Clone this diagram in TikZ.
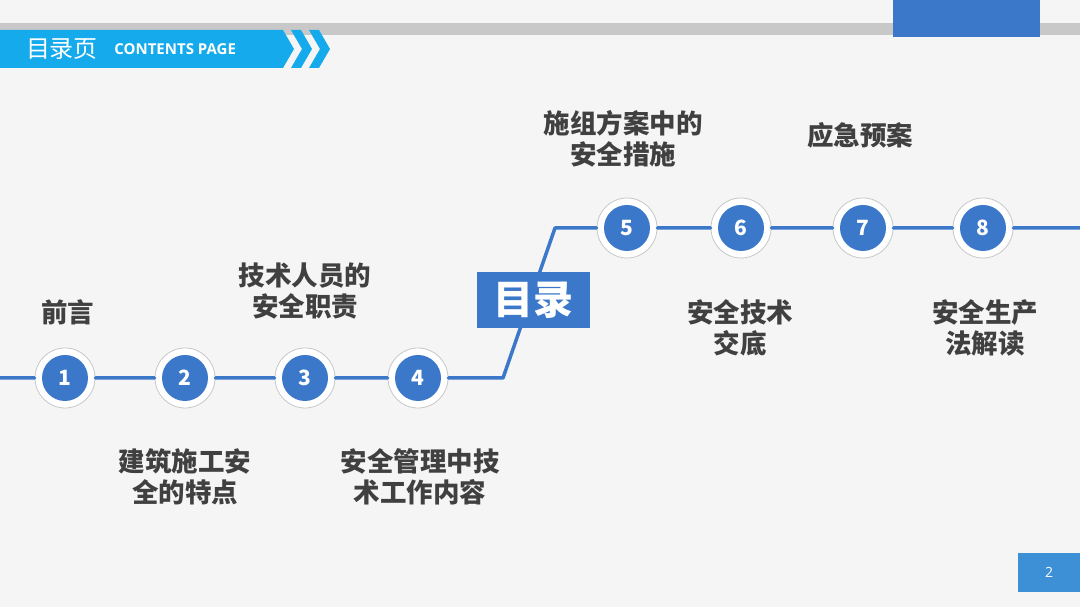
\documentclass[tikz,border=0pt]{standalone}
\usepackage{fontspec}
\usepackage{tikz}
\usetikzlibrary{positioning, calc}
\setmainfont{Open Sans}
\newfontfamily\cjk{Noto Sans CJK SC}
\definecolor{TLblue}{RGB}{59, 120, 201}
\definecolor{TLcyan}{RGB}{20, 170, 235}
\definecolor{TLgray}{RGB}{64, 64, 64}
\definecolor{TLpage}{RGB}{61, 143, 214}
\definecolor{TLback}{RGB}{245, 245, 245}
\definecolor{TLbar}{RGB}{200, 200, 200}
\tikzset{
    every path/.style={line cap=round, line join=round},
    stopnode/.style={circle, fill=white, draw=black!22, line width=0.8pt, minimum size=60pt, inner sep=0pt, text=white,
        font=\cjk\bfseries\fontsize{21}{21}\selectfont,
        path picture={\fill [TLblue] (path picture bounding box.center) circle (23pt);}},
    topic/.style={align=center, text=TLgray, font=\cjk\bfseries\fontsize{26.5}{31}\selectfont},
    track/.style={TLblue, line width=3.5pt}
}

\begin{document}
\begin{tikzpicture}[x=1pt, y=1pt]
    \fill [TLback] (0,0) rectangle (1080,607);
    \useasboundingbox (0,0) rectangle (1080,607);

    % header
    \fill [TLbar] (0,572) rectangle (1080,584);
    \fill [TLblue] (893,570) rectangle (1040,607);
    \fill [TLcyan] (0,577) -- (283,577) -- (294,558) -- (283,539) -- (0,539) -- cycle;
    \foreach \a in {291, 309}
        \fill [TLcyan] (\a,577) -- ++(10,0) -- ++(11,-19) -- ++(-11,-19) -- ++(-10,0) -- ++(11,19) -- cycle;
    \node [inner sep=0pt, text=white, font=\cjk\fontsize{24}{24}\selectfont] (title) at (62,558) {目录页};
    \node [inner sep=0pt, text=white, font=\bfseries\fontsize{15}{15}\selectfont, right=16pt of title] (subtitle) {CONTENTS PAGE};

    % stops
    \foreach \n/\x/\y in {1/65/229, 2/185/229, 3/305/229, 4/418/229, 5/627/379, 6/741/379, 7/863/379, 8/983/379}
        \node [stopnode] (c\n) at (\x,\y) {\n};

    \coordinate (lineL) at (0,229);
    \coordinate (bendlo) at (503,229);
    \coordinate (bendhi) at (555,379);
    \coordinate (lineR) at (1080,379);
    \draw [track] (lineL) -- (c1) (c1) -- (c2) (c2) -- (c3) (c3) -- (c4) (c4) -- (bendlo) -- (bendhi) -- (c5)
        (c5) -- (c6) (c6) -- (c7) (c7) -- (c8) (c8) -- (lineR);

    \node [
        fill=TLblue,
        minimum width=113pt,
        minimum height=56pt,
        text=white,
        font=\cjk\bfseries\fontsize{40}{40}\selectfont
    ] (toc) at (533.5,307) {目录};

    % topics
    \node [topic] (t1) at (68,295) {前言};
    \node [topic] (t2) at (185,130.5) {建筑施工安\\全的特点};
    \node [topic] (t3) at (305,315.5) {技术人员的\\安全职责};
    \node [topic] (t4) at (420,130.5) {安全管理中技\\术工作内容};
    \node [topic] (t5) at (623,468) {施组方案中的\\安全措施};
    \node [topic] (t6) at (740,279) {安全技术\\交底};
    \node [topic] (t7) at (860,472) {应急预案};
    \node [topic] (t8) at (985,279) {安全生产\\法解读};

    \node [
        fill=TLpage,
        minimum width=62pt,
        minimum height=39pt,
        inner sep=0pt,
        text=white,
        font=\fontsize{14}{14}\selectfont
    ] (pagenum) at (1049,34.5) {2};
\end{tikzpicture}
\end{document}
